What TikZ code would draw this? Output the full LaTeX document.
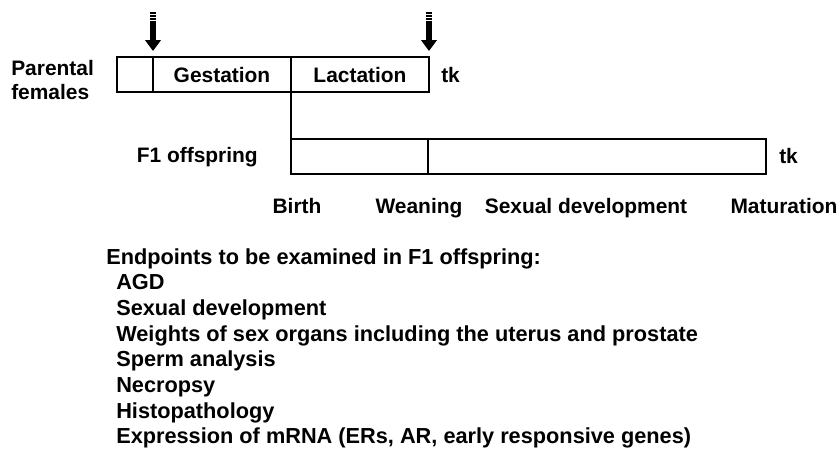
\documentclass[tikz,border=0pt]{standalone}
\usepackage{fontspec}
\setmainfont{Liberation Sans}
\usetikzlibrary{positioning, arrows.meta}

\begin{document}
\begin{tikzpicture}[
    x=0.75pt, y=-0.75pt, >=Stealth,
    every node/.style={font=\bfseries\fontsize{15.7}{18}\selectfont},
    seg/.style={draw, line width=1.5pt, minimum height=26.5pt, inner sep=0pt, outer sep=0pt},
    lbl/.style={inner sep=0pt, anchor=base},
    item/.style={inner sep=0pt, anchor=base west, font=\bfseries\fontsize{16.3}{19}\selectfont},
    dose/.style={line width=5.2pt, shorten >=4.5pt,
      dash pattern=on 1.6pt off 0.6pt on 1.6pt off 0.6pt on 1.6pt off 0.6pt on 40pt off 0pt,
      -{Triangle[width=11.5pt, length=8.2pt]}},
    link/.style={line width=1.5pt},
  ]
  \useasboundingbox (0,0) rectangle (840,450);
  % parental females
  \node[anchor=base west, align=left, inner sep=0pt] (parental) at (11,99) {Parental\\females};
  \node[seg, minimum width=27pt, anchor=north west] (pre) at (117,57) {};
  \node[seg, minimum width=103.5pt, right=0pt of pre] (gest) {Gestation};
  \node[seg, minimum width=103.5pt, right=0pt of gest] (lact) {Lactation};
  \node[lbl, anchor=base west] (tkp) at (441,82) {tk};
  % exposure arrows
  \coordinate (dose1) at (153,12);
  \coordinate (dose2) at (429,12);
  \draw[dose] (dose1) -- (pre.north east);
  \draw[dose] (dose2) -- (lact.north east);
  % F1 offspring
  \node[seg, minimum width=102.75pt, anchor=north west] (suck) at (291,139) {};
  \node[seg, minimum width=253.5pt, right=0pt of suck] (grow) {};
  \draw[link] (gest.south east) -- (suck.north west);
  \node[lbl, anchor=base east] (fone) at (258,162) {F1 offspring};
  \node[lbl, anchor=base west] (tkf) at (779,163) {tk};
  % time points
  \node[lbl] (birth) at (297,213) {Birth};
  \node[lbl] (wean)  at (419,213) {Weaning};
  \node[lbl] (sexdev) at (586,213) {Sexual development};
  \node[lbl] (mat)   at (784,213) {Maturation};
  % endpoints
  \node[item] (endp) at (106,264) {Endpoints to be examined in F1 offspring:};
  \foreach \txt [count=\i] in {AGD, Sexual development,
      Weights of sex organs including the uterus and prostate, Sperm analysis,
      Necropsy, Histopathology, {Expression of mRNA (ERs, AR, early responsive genes)}}
    \node[item] (item\i) at (116,264+25.7*\i) {\txt};
\end{tikzpicture}
\end{document}
